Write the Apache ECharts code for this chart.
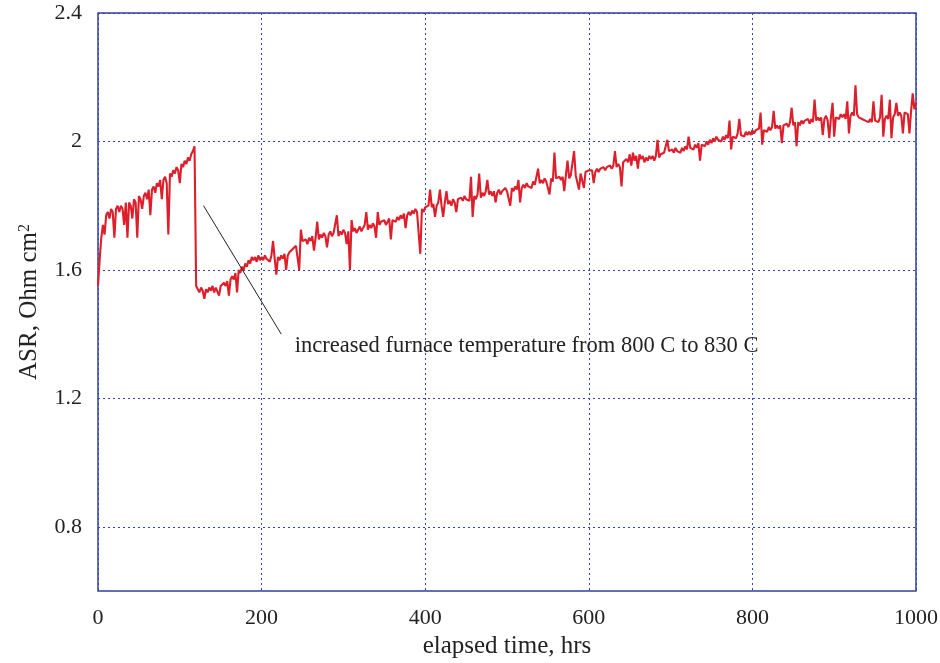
<!DOCTYPE html>
<html><head><meta charset="utf-8">
<script src="https://cdn.jsdelivr.net/npm/echarts@6/dist/echarts.min.js"></script>
<style>html,body{margin:0;padding:0;background:#fff}#c{width:940px;height:663px}</style>
</head><body><div id="c"></div>
<script>
const hourStep = 2;
const asrBeforeStep = [ // t = 0 .. 118
1.55,1.63,1.70,1.74,1.71,1.77,1.78,1.76,1.79,1.78,
1.70,1.79,1.80,1.78,1.80,1.79,1.74,1.81,1.70,1.81,
1.80,1.76,1.82,1.81,1.70,1.83,1.82,1.79,1.83,1.84,
1.82,1.85,1.77,1.85,1.86,1.84,1.87,1.86,1.88,1.82,
1.88,1.89,1.87,1.71,1.90,1.89,1.91,1.90,1.92,1.91,
1.87,1.93,1.92,1.94,1.93,1.95,1.94,1.96,1.97,1.985];
const asrAfterStep = [ // t = 120 .. 200
1.55,1.54,1.53,1.545,1.535,1.51,1.54,1.53,1.545,1.535,
1.55,1.53,1.545,1.54,1.52,1.55,1.545,1.56,1.55,1.565,
1.52,1.57,1.58,1.57,1.59,1.53,1.60,1.59,1.61,1.60,
1.62,1.61,1.63,1.62,1.64,1.63,1.64,1.625,1.645,1.63,1.64];
const asr200to400 = [ // t = 202 .. 400
1.63,1.645,1.635,1.64,1.625,1.645,1.69,1.635,1.585,1.64,
1.63,1.645,1.635,1.65,1.60,1.645,1.655,1.65,1.665,1.66,
1.675,1.67,1.60,1.725,1.69,1.685,1.695,1.68,1.70,1.69,
1.705,1.66,1.70,1.75,1.695,1.71,1.70,1.715,1.705,1.67,
1.71,1.72,1.705,1.715,1.71,1.77,1.705,1.72,1.71,1.725,
1.715,1.68,1.72,1.60,1.755,1.72,1.73,1.715,1.725,1.735,
1.72,1.73,1.74,1.78,1.725,1.74,1.73,1.745,1.735,1.70,
1.78,1.74,1.75,1.745,1.755,1.74,1.75,1.76,1.695,1.755,
1.76,1.75,1.765,1.755,1.77,1.76,1.775,1.73,1.77,1.78,
1.77,1.785,1.775,1.79,1.78,1.785,1.65,1.79,1.78,1.795];
const asr400to600 = [ // t = 402 .. 600
1.79,1.80,1.85,1.795,1.805,1.765,1.80,1.81,1.85,1.80,
1.765,1.81,1.845,1.805,1.815,1.80,1.82,1.81,1.78,1.82,
1.815,1.825,1.815,1.83,1.82,1.825,1.815,1.89,1.765,1.83,
1.82,1.835,1.90,1.825,1.84,1.83,1.845,1.88,1.835,1.845,
1.83,1.845,1.81,1.84,1.85,1.835,1.845,1.84,1.855,1.845,
1.85,1.80,1.855,1.845,1.86,1.85,1.88,1.81,1.855,1.865,
1.855,1.87,1.86,1.865,1.855,1.875,1.865,1.87,1.915,1.87,
1.88,1.87,1.885,1.875,1.88,1.835,1.885,1.875,1.965,1.885,
1.88,1.89,1.88,1.89,1.845,1.895,1.94,1.885,1.895,1.89,
1.97,1.895,1.90,1.85,1.90,1.895,1.855,1.905,1.90,1.91];
const asr600to800 = [ // t = 602 .. 800
1.905,1.91,1.87,1.905,1.915,1.905,1.915,1.91,1.92,1.91,
1.92,1.915,1.925,1.915,1.925,1.97,1.92,1.93,1.92,1.86,
1.935,1.93,1.945,1.935,1.96,1.925,1.965,1.94,1.955,1.915,
1.96,1.945,1.955,1.935,1.95,1.94,1.955,1.945,1.955,1.94,
1.955,2.005,1.95,1.96,1.955,1.965,1.96,2.005,1.97,1.965,
1.975,1.965,1.98,1.97,1.975,1.965,1.98,1.97,1.985,1.975,
2.015,1.98,1.985,1.975,1.99,1.98,1.995,1.94,1.99,1.995,
1.985,2.00,1.99,2.005,1.995,2.01,2.00,2.015,2.005,2.01,
2.00,2.015,2.005,2.02,2.01,2.065,1.975,2.015,2.02,2.01,
2.025,2.07,2.02,2.025,2.015,2.03,2.02,2.03,2.02,2.035];
const asr800to1000 = [ // t = 802 .. 1000
2.025,2.035,2.03,2.04,2.09,1.99,2.035,2.04,2.03,2.045,
2.035,2.045,2.095,2.04,2.05,2.04,2.05,1.995,2.05,2.045,
2.055,2.045,2.06,2.105,2.05,2.06,1.985,2.06,2.05,2.065,
2.055,2.065,2.06,2.07,2.055,2.07,2.06,2.13,2.065,2.075,
2.065,2.075,2.02,2.07,2.08,2.065,2.01,2.075,2.12,2.015,
2.075,2.08,2.07,2.085,2.075,2.085,2.07,2.125,2.025,2.08,
2.09,2.08,2.175,2.085,2.075,2.08,2.07,2.075,2.065,2.07,
2.06,2.07,2.06,2.125,2.065,2.07,2.06,2.075,2.145,2.015,
2.07,2.08,2.07,2.13,2.01,2.075,2.085,2.12,2.08,2.09,
2.08,2.025,2.09,2.095,2.085,2.025,2.095,2.15,2.10,2.12];

const xTicks = [0, 200, 400, 600, 800, 1000];
const yTicks = [0.8, 1.2, 1.6, 2, 2.4];
const annotationFrom = [129, 1.80];
const annotationTo = [224, 1.40];
const annotationTextAt = [240, 1.362];
const annotationText = 'increased furnace temperature from 800 C to 830 C';

const asr = [].concat(asrBeforeStep, asrAfterStep, asr200to400, asr400to600, asr600to800, asr800to1000);
const seriesData = asr.map((v, i) => [i * hourStep, v]);

const serif = "'Liberation Serif', 'Times New Roman', serif";
const gridColor = '#3345b0';
const chart = echarts.init(document.getElementById('c'), null, {renderer: 'canvas'});
chart.setOption({
  animation: false,
  backgroundColor: '#ffffff',
  grid: {left: 98, right: 24, top: 13, bottom: 72, show: true, borderColor: '#2f40a0', borderWidth: 1.5,
    containLabel: false, outerBoundsMode: 'none'},
  xAxis: {
    type: 'value', min: 0, max: 1000, interval: 200,
    name: 'elapsed time, hrs', nameLocation: 'middle', nameGap: 42,
    nameTextStyle: {fontFamily: serif, fontSize: 25, color: '#222'},
    axisLine: {show: false}, axisTick: {show: false},
    axisLabel: {fontFamily: serif, fontSize: 22, color: '#222', margin: 16,
      customValues: xTicks, formatter: v => String(v)},
    splitLine: {show: true, lineStyle: {color: gridColor, type: [2, 3], width: 1}}
  },
  yAxis: {
    type: 'value', min: 0.6, max: 2.4,
    name: 'ASR, Ohm cm{sup|2}', nameLocation: 'middle', nameGap: 56,
    nameTextStyle: {fontFamily: serif, fontSize: 25, color: '#222',
      rich: {sup: {fontFamily: serif, fontSize: 16, color: '#222', verticalAlign: 'top'}}},
    axisLine: {show: false},
    axisTick: {show: false, customValues: yTicks},
    axisLabel: {fontFamily: serif, fontSize: 22, color: '#222', margin: 16,
      customValues: yTicks, formatter: v => String(v)},
    splitLine: {show: true, lineStyle: {color: gridColor, type: [2, 3], width: 1}}
  },
  series: [{
    type: 'line', data: seriesData, showSymbol: false, symbol: 'none', sampling: 'none',
    lineStyle: {color: '#dc1f2b', width: 2.1, join: 'bevel'}, itemStyle: {color: '#dc1f2b'},
    markLine: {
      silent: true, symbol: ['none', 'none'], animation: false,
      lineStyle: {color: '#222', width: 1, type: 'solid'},
      label: {show: false},
      data: [[{coord: annotationFrom}, {coord: annotationTo}]]
    },
    markPoint: {
      silent: true, animation: false, symbol: 'circle', symbolSize: 1,
      itemStyle: {color: 'rgba(0,0,0,0)'},
      label: {show: true, position: 'right', distance: 0, color: '#222',
        fontFamily: serif, fontSize: 22.5, formatter: annotationText},
      data: [{coord: annotationTextAt}]
    }
  }]
});
</script></body></html>
